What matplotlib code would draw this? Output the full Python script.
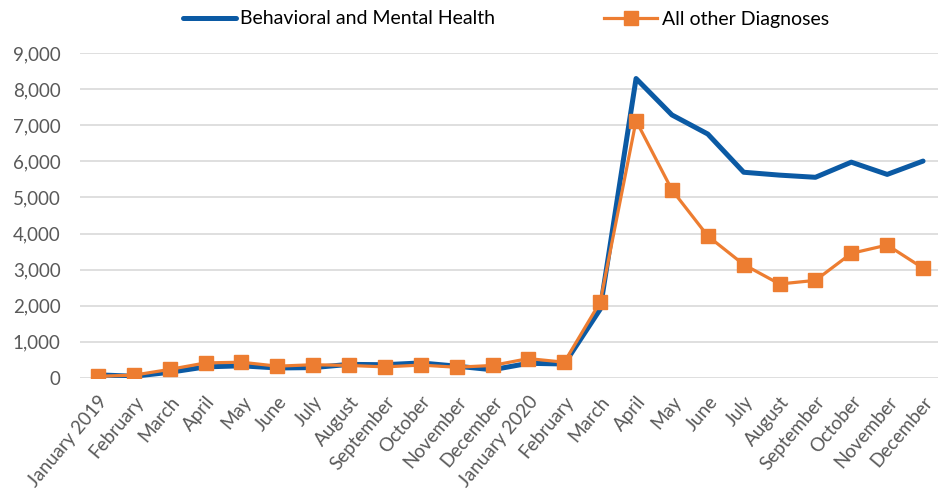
import matplotlib
matplotlib.use("Agg")
import matplotlib.pyplot as plt
from matplotlib.ticker import FuncFormatter

months = ["January 2019", "February", "March", "April", "May", "June", "July",
          "August", "September", "October", "November", "December",
          "January 2020", "February", "March", "April", "May", "June", "July",
          "August", "September", "October", "November", "December"]

behavioral = [80, 40, 150, 300, 330, 270, 280, 370, 360, 410, 320, 220,
              400, 380, 1900, 8300, 7290, 6760, 5700, 5620, 5560, 5980, 5640, 6010]
other = [40, 70, 230, 410, 430, 320, 360, 340, 300, 350, 290, 340,
         530, 430, 2100, 7130, 5210, 3930, 3140, 2600, 2700, 3450, 3680, 3040]

y_ticks = [0, 1000, 2000, 3000, 4000, 5000, 6000, 7000, 8000, 9000]

plt.rcParams['font.family'] = ['Lato', 'DejaVu Sans']

fig = plt.figure(figsize=(9.38, 4.95), dpi=100)
ax = fig.add_axes([80/938, (495-377.7)/495, 861/938, (377.7-53.3)/495])

x = list(range(len(months)))
l1, = ax.plot(x, behavioral, color="#0B5AA4", lw=3.6, solid_joinstyle="round",
              solid_capstyle="round", label="Behavioral and Mental Health", zorder=3)
l2, = ax.plot(x, other, color="#ED7D31", lw=2.3, marker="s", markersize=10.5,
              label="All other Diagnoses", zorder=4)

ax.set_xlim(-0.5, len(months) - 0.5)
ax.set_ylim(0, 9000)
ax.set_yticks(y_ticks)
ax.yaxis.set_major_formatter(FuncFormatter(lambda v, p: f"{int(v):,}"))
ax.set_xticks(x)
ax.set_xticklabels(months, rotation=50, ha="right", rotation_mode="anchor")
ax.grid(axis="y", color="#D9D9D9", lw=1.2)
ax.set_axisbelow(True)
for s in ax.spines.values():
    s.set_visible(False)
ax.tick_params(axis="both", length=0, colors="#595959", labelsize=13.5)
ax.tick_params(axis="y", pad=14)
ax.tick_params(axis="x", pad=11)

fig.legend(handles=[l1, l2], loc="center", bbox_to_anchor=(506/938, 1 - 19/495),
           ncol=2, frameon=False, fontsize=14, handlelength=2.7, columnspacing=5.6,
           handletextpad=0.25, labelcolor="#000000")

fig.savefig("out.png", dpi=100)
